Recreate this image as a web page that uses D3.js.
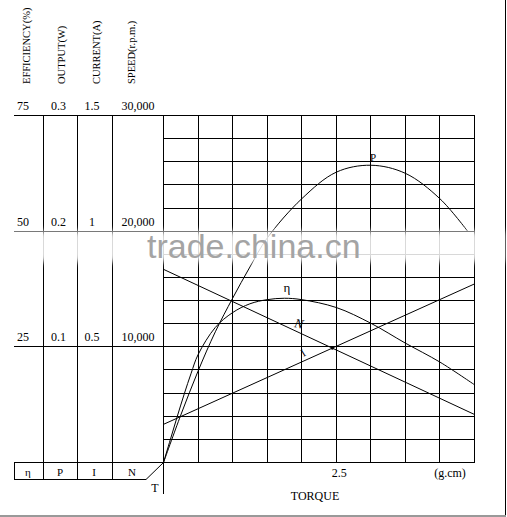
<!DOCTYPE html>
<html>
<head>
<meta charset="utf-8">
<script src="https://cdn.jsdelivr.net/npm/d3@7"></script>
<style>
  body { margin: 0; background: #fff; }
  svg { display: block; }
  text { font-family: "Liberation Serif", "Times New Roman", serif; fill: #000; }
</style>
</head>
<body>
<svg id="chart" width="507" height="517"></svg>
<script>
// values
const torqueSteps = d3.range(0, 4.5001, 0.5);
const torqueLabels = [2.5];

const effTicks = [25, 50, 75];
const outTicks = [0.1, 0.2, 0.3];
const curTicks = [0.5, 1, 1.5];
const spdTicks = [10000, 20000, 30000];

const axisTitles = ['EFFICIENCY(%)', 'OUTPUT(W)', 'CURRENT(A)', 'SPEED(r.p.m.)'];
const axisSymbols = ['η', 'P', 'I', 'N'];

const effTorque = [0, 0.1, 0.2, 0.3, 0.4, 0.5, 0.75, 1, 1.25, 1.5, 1.75, 2, 2.5, 3, 3.5, 4, 4.5];
const effValues = [0, 5, 10, 14.8, 19.3, 23.3, 29.2, 32.4, 34.3, 35.2, 35.5, 35.2, 33.5, 30.1, 25.8, 21.7, 16.8];

const outTorque = [0, 0.25, 0.5, 0.75, 1, 1.25, 1.5, 2, 2.5, 3, 3.5, 4, 4.4];
const outValues = [0, 0.041, 0.079, 0.113, 0.142, 0.169, 0.194, 0.228, 0.251, 0.257, 0.25, 0.228, 0.2];

const curTorque = [0, 4.5];
const curValues = [0.165, 0.772];

const spdTorque = [0, 4.5];
const spdValues = [16700, 4150];

const svg = d3.select('#chart');

const x = d3.scaleLinear().domain([0, 4.5]).range([163.5, 474.5]);
const yRange = [462.5, 115.5];
const yEff = d3.scaleLinear().domain([0, 75]).range(yRange);
const yOut = d3.scaleLinear().domain([0, 0.3]).range(yRange);
const yCur = d3.scaleLinear().domain([0, 1.5]).range(yRange);
const ySpd = d3.scaleLinear().domain([0, 30000]).range(yRange);

// left panel layout
const panelLeft = 14;
const panelCols = [43, 77, 112];
const labelX = [23, 58.5, 92, 138];
const titleX = [26, 61, 96, 131];
const symbolX = [28, 60, 94, 132];
const tableBottom = 479.5;

const grid = svg.append('g')
  .attr('stroke', '#000')
  .attr('stroke-width', 1)
  .attr('shape-rendering', 'crispEdges');

// plot grid
grid.selectAll('line.v')
  .data(torqueSteps)
  .join('line')
  .attr('class', 'v')
  .attr('x1', d => x(d)).attr('x2', d => x(d))
  .attr('y1', yRange[1]).attr('y2', d => d === 0 ? 494 : yRange[0]);

grid.selectAll('line.h')
  .data(d3.range(0, 75.001, 5))
  .join('line')
  .attr('class', 'h')
  .attr('x1', d => (d % 25 === 0) ? panelLeft : x(0))
  .attr('x2', x(4.5))
  .attr('y1', d => yEff(d)).attr('y2', d => yEff(d));

// left panel columns
grid.selectAll('line.pc')
  .data(panelCols)
  .join('line')
  .attr('class', 'pc')
  .attr('x1', d => d).attr('x2', d => d)
  .attr('y1', yRange[1]).attr('y2', tableBottom);

grid.append('line')
  .attr('x1', panelLeft).attr('x2', panelLeft)
  .attr('y1', yRange[0]).attr('y2', tableBottom);
grid.append('line')
  .attr('x1', panelLeft).attr('x2', 146)
  .attr('y1', tableBottom).attr('y2', tableBottom);

svg.append('line')
  .attr('x1', 146).attr('y1', tableBottom)
  .attr('x2', x(0)).attr('y2', yRange[0])
  .attr('stroke', '#000');

// frame
svg.append('line')
  .attr('x1', 505.5).attr('x2', 505.5).attr('y1', 0).attr('y2', 515)
  .attr('stroke', '#000').attr('shape-rendering', 'crispEdges');
svg.append('line')
  .attr('x1', 0).attr('x2', 506).attr('y1', 515.5).attr('y2', 515.5)
  .attr('stroke', '#999').attr('stroke-width', 2).attr('shape-rendering', 'crispEdges');

// curves
const curves = [
  { t: effTorque, v: effValues, y: yEff },
  { t: outTorque, v: outValues, y: yOut },
  { t: curTorque, v: curValues, y: yCur },
  { t: spdTorque, v: spdValues, y: ySpd }
];

svg.append('g')
  .selectAll('path')
  .data(curves)
  .join('path')
  .attr('fill', 'none')
  .attr('stroke', '#000')
  .attr('stroke-width', 1)
  .attr('d', c => d3.line()
    .x((d, i) => x(c.t[i]))
    .y(d => c.y(d))
    .curve(d3.curveCatmullRom)(c.v));

// dot where speed and current lines meet
const spdLine = d3.scaleLinear().domain(spdTorque).range(spdValues.map(ySpd));
const curLine = d3.scaleLinear().domain(curTorque).range(curValues.map(yCur));
const tMeet = (spdLine(0) - curLine(0)) / ((spdLine(0) - spdLine(4.5)) - (curLine(0) - curLine(4.5))) * 4.5;
svg.append('circle')
  .attr('cx', x(tMeet)).attr('cy', spdLine(tMeet))
  .attr('r', 1.6).attr('fill', '#000');

// curve labels
svg.append('text').attr('x', 373).attr('y', 161).attr('text-anchor', 'middle')
  .attr('font-size', 11).text('P');
svg.append('text').attr('x', 287).attr('y', 292).attr('text-anchor', 'middle')
  .attr('font-size', 13).text('η');
svg.append('text').attr('transform', 'translate(298,328) rotate(12)').attr('text-anchor', 'middle')
  .attr('font-size', 13).attr('font-style', 'italic').text('N');
svg.append('text').attr('transform', 'translate(305,356) rotate(-32)').attr('text-anchor', 'middle')
  .attr('font-size', 11).text('I');

// left axis labels
const leftAxes = [
  { ticks: effTicks, y: yEff, fmt: d => String(d) },
  { ticks: outTicks, y: yOut, fmt: d => String(d) },
  { ticks: curTicks, y: yCur, fmt: d => String(d) },
  { ticks: spdTicks, y: ySpd, fmt: d3.format(',') }
];

leftAxes.forEach((a, i) => {
  svg.append('g')
    .selectAll('text')
    .data(a.ticks)
    .join('text')
    .attr('x', labelX[i])
    .attr('y', d => a.y(d) - 5.5)
    .attr('text-anchor', 'middle')
    .attr('font-size', 12)
    .text(a.fmt);
});

svg.append('g')
  .selectAll('text')
  .data(axisTitles)
  .join('text')
  .attr('transform', (d, i) => `translate(${titleX[i] + 4},84) rotate(-90)`)
  .attr('font-size', 10.5)
  .text(d => d);

svg.append('g')
  .selectAll('text')
  .data(axisSymbols)
  .join('text')
  .attr('x', (d, i) => symbolX[i])
  .attr('y', 476)
  .attr('text-anchor', 'middle')
  .attr('font-size', 11)
  .text(d => d);

// torque axis
svg.append('g')
  .selectAll('text')
  .data(torqueLabels)
  .join('text')
  .attr('x', d => x(d) + 3)
  .attr('y', 477)
  .attr('text-anchor', 'middle')
  .attr('font-size', 12)
  .text(d => d);

svg.append('text').attr('x', 450).attr('y', 477).attr('text-anchor', 'middle')
  .attr('font-size', 12).text('(g.cm)');
svg.append('text').attr('x', 155).attr('y', 492).attr('text-anchor', 'middle')
  .attr('font-size', 12).text('T');
svg.append('text').attr('x', 315).attr('y', 500).attr('text-anchor', 'middle')
  .attr('font-size', 12).text('TORQUE');

// watermark
const defs = svg.append('defs');
defs.append('filter').attr('id', 'soft')
  .attr('x', '-10%').attr('y', '-50%').attr('width', '120%').attr('height', '200%')
  .append('feGaussianBlur').attr('stdDeviation', 3);
svg.append('rect')
  .attr('x', 0).attr('y', 231).attr('width', 505).attr('height', 31)
  .attr('fill', '#fff').attr('opacity', 0.85)
  .attr('filter', 'url(#soft)');
svg.append('text')
  .attr('x', 147).attr('y', 258)
  .attr('font-size', 34)
  .style('font-family', '"Liberation Sans", Arial, sans-serif')
  .style('fill', '#a4a4a4')
  .text('trade.china.cn');
</script>
</body>
</html>
